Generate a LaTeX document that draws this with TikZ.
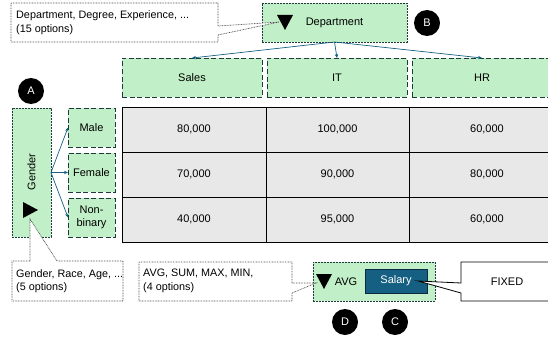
\documentclass[tikz,border=0pt]{standalone}
\usepackage{fontspec}
\setmainfont{Liberation Sans}
\usetikzlibrary{arrows.meta}
\definecolor{gfill}{HTML}{C1F0C8}
\definecolor{gedge}{HTML}{1E3A3A}
\definecolor{arrowc}{HTML}{156082}
\definecolor{salfill}{HTML}{156082}
\definecolor{saledge}{HTML}{0E2841}
\definecolor{cellfill}{HTML}{E8E8E8}
\begin{document}
\begin{tikzpicture}[x=1pt,y=-1pt,
  every node/.style={font=\fontsize{11}{13}\selectfont},
  selbox/.style={draw=gedge, fill=gfill, dash pattern=on 2pt off 1pt, line width=0.8pt, inner sep=0, outer sep=0},
  catbox/.style={draw=gedge, fill=gfill, dash pattern=on 5pt off 2.5pt, line width=0.9pt, inner sep=0, outer sep=0, minimum height=39pt, align=center},
  cell/.style={draw=black, fill=cellfill, line width=0.8pt, inner sep=0, minimum height=45pt},
  link/.style={draw=arrowc, line width=0.7pt, -{Stealth[length=4pt,width=3.5pt]}},
  badge/.style={circle, fill=black, text=white, minimum size=26pt, inner sep=0},
  callout/.style={draw=black!70, line width=0.7pt, dash pattern=on 0.8pt off 0.8pt, fill=white},
  note/.style={anchor=west, align=left, inner sep=0, font=\fontsize{10.8}{13.5}\selectfont},
  tri/.style={fill=black}
]
\useasboundingbox (0,0) rectangle (548,337);
\clip (0,0) rectangle (548,337);

% Department selector
\node[selbox, minimum width=145pt, minimum height=39pt] (dept) at (334.5,22.5) {Department};
\fill[tri] (277,15) -- (293,15) -- (285,30) -- cycle;
\coordinate (dtip) at (279,22);

% Column headers
\node[catbox, minimum width=140pt] (sales) at (192,77.5) {Sales};
\node[catbox, minimum width=140pt] (it) at (337,77.5) {IT};
\node[catbox, minimum width=140pt] (hr) at (482,77.5) {HR};
\draw[link] (dept.south) -- (sales.north);
\draw[link] (dept.south) -- (it.north);
\draw[link] (dept.south) -- (hr.north);

% Table
\node[cell, minimum width=144pt] (c11) at (194,129.5) {80,000};
\node[cell, minimum width=143pt] (c12) at (337.5,129.5) {100,000};
\node[cell, minimum width=156pt] (c13) at (487,129.5) {60,000};
\node[cell, minimum width=144pt] (c21) at (194,174.5) {70,000};
\node[cell, minimum width=143pt] (c22) at (337.5,174.5) {90,000};
\node[cell, minimum width=156pt] (c23) at (487,174.5) {80,000};
\node[cell, minimum width=144pt] (c31) at (194,219.5) {40,000};
\node[cell, minimum width=143pt] (c32) at (337.5,219.5) {95,000};
\node[cell, minimum width=156pt] (c33) at (487,219.5) {60,000};

% Gender selector
\node[selbox, minimum width=39pt, minimum height=129pt] (gender) at (31.5,172.5) {};
\node[rotate=90] (gtext) at (31.5,172) {Gender};
\fill[tri] (23,202) -- (23,218) -- (38,210) -- cycle;
\coordinate (gtip) at (30,219);

% Row headers
\node[catbox, minimum width=47pt] (male) at (91.5,127.5) {Male};
\node[catbox, minimum width=47pt] (female) at (91.5,172.5) {Female};
\node[catbox, minimum width=47pt] (nonbin) at (91.5,217.5) {Non-\\binary};
\draw[link] (gender.east) -- (male.west);
\draw[link] (gender.east) -- (female.west);
\draw[link] (gender.east) -- (nonbin.west);

% Aggregation / value selector
\node[selbox, minimum width=122pt, minimum height=39pt] (agg) at (374,281.5) {};
\fill[tri] (316,274) -- (332,274) -- (324,289) -- cycle;
\coordinate (atip) at (316,283);
\node (avg) at (346,282) {AVG};
\node[draw=saledge, fill=salfill, text=white, line width=0.8pt, minimum width=62pt, minimum height=24pt, inner sep=0] (salary) at (396,281) {Salary};
\coordinate (stip) at (418,281);

% Callouts
\draw[callout] (218,26) -- (218,3) -- (11,3) -- (11,42) -- (218,42) -- (218,35) -- (dtip) -- cycle;
\node[note] (n1) at (16,22.5) {Department, Degree, Experience, ...\\(15 options)};

\draw[callout] (30,261) -- (12,261) -- (12,301) -- (123,301) -- (123,261) -- (57,261) -- (gtip) -- cycle;
\node[note] (n2) at (16,281) {Gender, Race, Age, ...\\(5 options)};

\draw[callout] (292,283) -- (292,262) -- (139,262) -- (139,301) -- (292,301) -- (292,293) -- (atip) -- cycle;
\node[note] (n3) at (143,281) {AVG, SUM, MAX, MIN,\\(4 options)};

\draw[black, line width=0.8pt, fill=white] (560,262) -- (461,262) -- (461,283) -- (stip) -- (461,293) -- (461,301) -- (560,301);
\node (fixed) at (507,282) {FIXED};

% Badges
\node[badge] (A) at (31,91) {A};
\node[badge] (B) at (427,23) {B};
\node[badge] (D) at (345,322) {D};
\node[badge] (C) at (395,322) {C};
\end{tikzpicture}
\end{document}
